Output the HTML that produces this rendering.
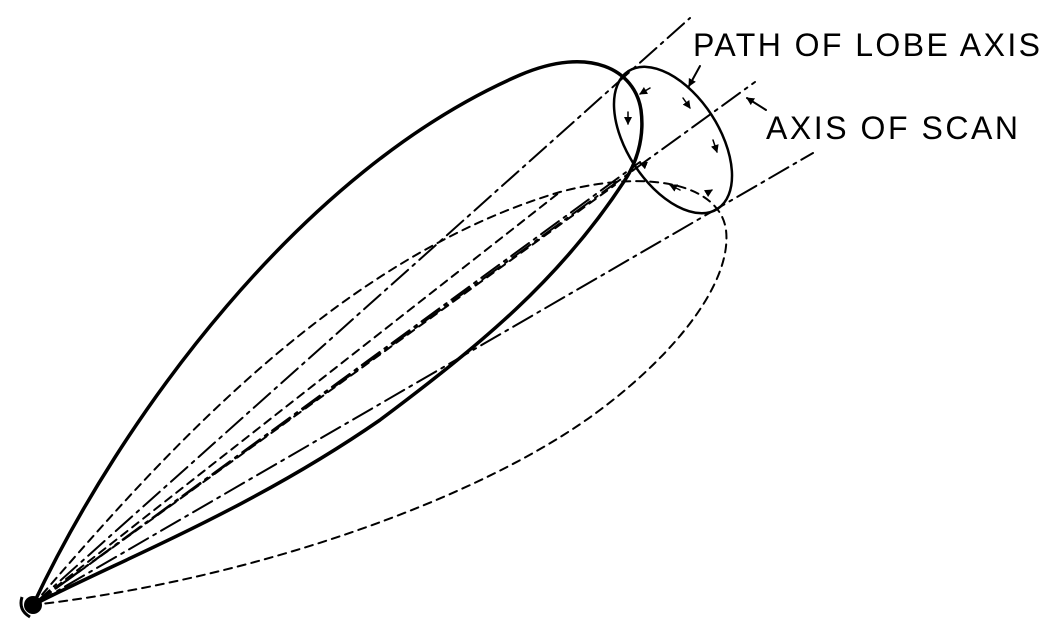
<!DOCTYPE html>
<html><head><meta charset="utf-8"><style>
html,body{margin:0;padding:0;background:#fff;width:1056px;height:642px;overflow:hidden}
svg{display:block}
text{font-family:"Liberation Sans",sans-serif;font-size:32px;fill:#000}
</style></head><body>
<svg width="1056" height="642" viewBox="0 0 1056 642">
<defs><marker id="ah" markerWidth="8" markerHeight="8" refX="7" refY="4" orient="auto" markerUnits="userSpaceOnUse"><path d="M0,0 L8,4 L0,8 z" fill="#000"/></marker></defs>
<g fill="none" stroke="#000" stroke-linecap="round">
<g stroke-width="2" stroke-dasharray="22,6,3,6">
<line x1="33" y1="605" x2="690" y2="18"/>
<line x1="33" y1="605" x2="755" y2="82"/>
<line x1="33" y1="605" x2="813" y2="153"/>
<line x1="33" y1="605" x2="640" y2="162"/>
</g>
<path stroke-width="2" stroke-dasharray="8,6" d="M33,605 C150,470 330,260 560,192 C650,168 720,185 726,230 C732,280 680,350 600,410 C480,500 250,580 33,605 Z"/>
<g stroke-width="2" stroke-dasharray="8,6">
<line x1="33" y1="605" x2="560" y2="192"/>
<line x1="33" y1="605" x2="615" y2="185"/>
</g>
<path stroke-width="3.5" d="M33,605 C120,420 300,170 520,75 C590,45 635,70 641,110 C645,140 635,165 625,180 C560,280 480,345 380,420 C250,510 120,560 33,605 Z"/>
<ellipse cx="673" cy="140" rx="82" ry="46" transform="rotate(57 673 140)" stroke-width="2.5"/>
<g stroke-width="1.5" marker-end="url(#ah)">
<line x1="650" y1="88" x2="640" y2="94"/>
<line x1="683" y1="98" x2="690" y2="108"/>
<line x1="713" y1="140" x2="717" y2="152"/>
<line x1="707" y1="193" x2="712" y2="190"/>
<line x1="680" y1="190" x2="670" y2="185"/>
<line x1="645" y1="165" x2="640" y2="163"/>
<line x1="628" y1="112" x2="628" y2="124"/>
</g>
<line x1="700" y1="66" x2="689" y2="86" stroke-width="2" marker-end="url(#ah)"/>
<line x1="766" y1="110" x2="747" y2="98" stroke-width="2" marker-end="url(#ah)"/>
</g>
<circle cx="33" cy="605" r="9" fill="#000"/>
<path d="M22,597 Q18,610 30,617" fill="none" stroke="#000" stroke-width="3"/>
<text x="693" y="56" textLength="347" lengthAdjust="spacing">PATH OF LOBE AXIS</text>
<text x="766" y="139" textLength="252" lengthAdjust="spacing">AXIS OF SCAN</text>
</svg>
</body></html>
